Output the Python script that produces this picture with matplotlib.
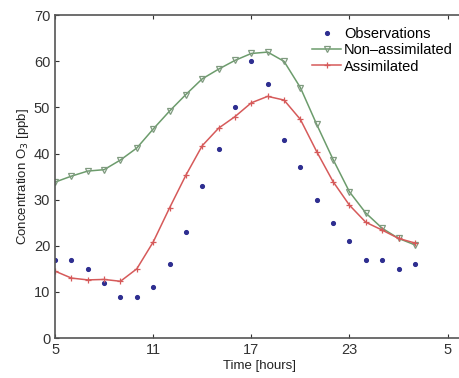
import matplotlib
matplotlib.use("Agg")
import matplotlib.pyplot as plt

hours = list(range(5, 28))
observations = [17, 17, 15, 12, 9, 9, 11, 16, 23, 33, 41, 50, 60, 55, 43, 37, 30, 25, 21, 17, 17, 15, 16]
non_assimilated = [33.8, 35.1, 36.2, 36.5, 38.6, 41.2, 45.3, 49.2, 52.8, 56.2, 58.3, 60.2, 61.7, 62.0, 60.0,
                   54.3, 46.3, 38.7, 31.7, 27.1, 23.8, 21.6, 20.2]
assimilated = [14.5, 13.0, 12.6, 12.7, 12.3, 15.0, 20.8, 28.2, 35.3, 41.7, 45.5, 48.0, 51.0, 52.4, 51.6,
               47.4, 40.4, 33.9, 28.8, 25.1, 23.4, 21.6, 20.6]
xtick_pos = [5, 11, 17, 23, 29]
xtick_labels = ["5", "11", "17", "23", "5"]
yticks = [0, 10, 20, 30, 40, 50, 60, 70]

plt.rcParams['font.family'] = ['Liberation Sans', 'DejaVu Sans']

fig = plt.figure(figsize=(4.6, 3.78), dpi=100)
ax = fig.add_axes([0.1196, 0.1058, 0.889, 0.854])

ax.plot(hours, observations, linestyle='none', marker='o', markersize=2.7,
        color='#2e2e90', label='Observations')
ax.plot(hours, non_assimilated, color='#6c9c6c', linewidth=1.1, marker='v', markersize=5,
        markerfacecolor='none', markeredgecolor='#7f9a7f', markeredgewidth=0.9, label='Non\u2013assimilated')
ax.plot(hours, assimilated, color='#d65a5a', linewidth=1.1, marker='+', markersize=5,
        markeredgewidth=0.9, label='Assimilated')

ax.set_xlim(5, 30)
ax.set_ylim(0, 70)
ax.set_xticks(xtick_pos)
ax.set_xticklabels(xtick_labels)
ax.set_yticks(yticks)
ax.tick_params(direction='in', length=3, labelsize=10.5, colors='#333333', top=True, right=False)
for s in ax.spines.values():
    s.set_color('#555555')
    s.set_linewidth(1.2)
ax.spines['right'].set_visible(False)

ax.set_xlabel('Time [hours]', fontsize=9.5, color='#222222', labelpad=2)
ax.set_ylabel('Concentration O$_3$ [ppb]', fontsize=9.5, color='#222222', labelpad=2)

leg = ax.legend(loc='upper left', bbox_to_anchor=(0.607, 0.99), frameon=False, fontsize=10.5,
                handlelength=2.0, handletextpad=0.2, labelspacing=0.15, borderaxespad=0.2)

fig.savefig('out.png', dpi=100)
